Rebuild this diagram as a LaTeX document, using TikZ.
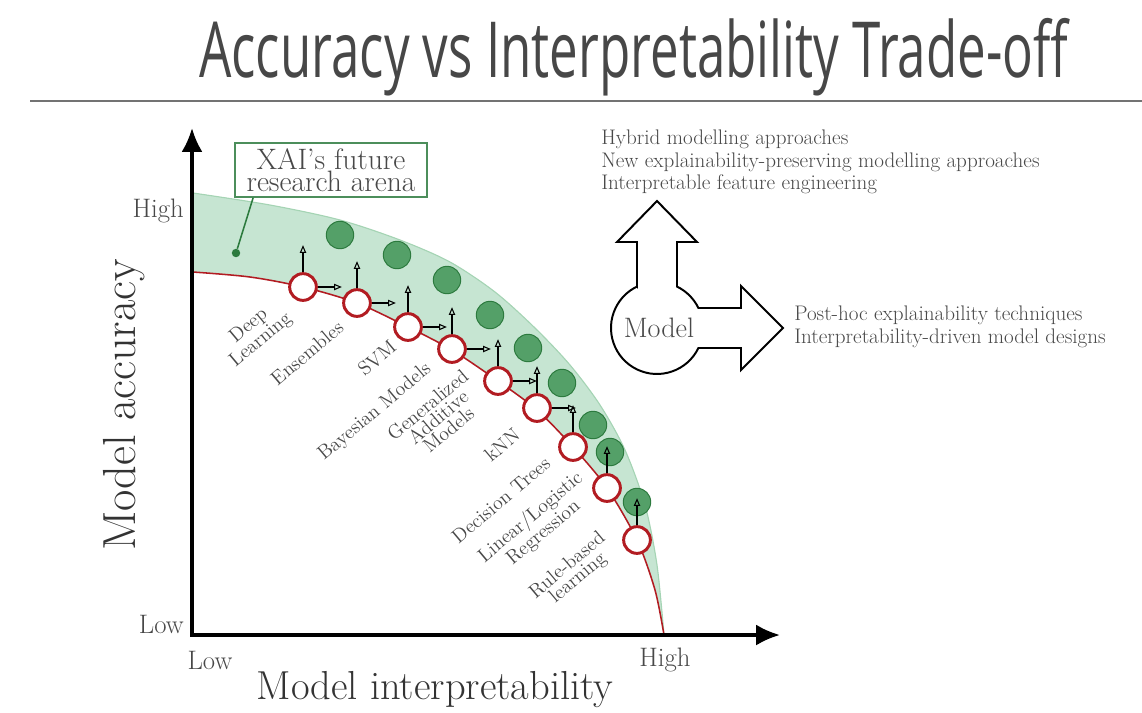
\documentclass[tikz,border=0pt]{standalone}
\usepackage{fontspec}
\newfontfamily\titlefont[FakeStretch=0.66]{Open Sans}
\usetikzlibrary{arrows.meta,positioning,calc}

\definecolor{arenafill}{RGB}{198,229,210}
\definecolor{arenaedge}{RGB}{165,212,180}
\definecolor{futfill}{RGB}{84,160,104}
\definecolor{futedge}{RGB}{44,122,62}
\definecolor{modred}{RGB}{178,28,34}
\definecolor{txtgray}{RGB}{72,72,72}

\tikzset{
  model/.style={circle, draw=modred, line width=2.1pt, fill=white, minimum size=19pt, inner sep=0pt},
  future/.style={circle, draw=futedge, fill=futfill, line width=0.7pt, minimum size=19.5pt, inner sep=0pt},
  lbl/.style={rotate=40, align=center, text=txtgray, inner sep=0pt, font=\fontsize{14}{11.5}\selectfont},
  move/.style={-{Triangle[open,length=5.5pt,width=4.5pt]}, line width=0.75pt},
  tick/.style={text=txtgray, inner sep=0pt, font=\fontsize{19}{22}\selectfont},
  axtitle/.style={text=black!80, inner sep=0pt},
  side/.style={text=txtgray, align=left, inner sep=0pt, font=\fontsize{15}{16}\selectfont},
}

\begin{document}
\begin{tikzpicture}[x=0.025cm, y=0.025cm]
  \useasboundingbox (0,0) rectangle (1142,-712);

  % title
  \node[anchor=base west, inner sep=0pt, text=black!72, font=\titlefont\fontsize{55}{60}\selectfont]
    (title) at (199,-77) {Accuracy vs Interpretability Trade-off};
  \draw[black!55, line width=1.6pt] (30,-101) -- (1142,-101);

  % research arena band
  \fill[arenafill] plot[smooth] coordinates {(193,-193) (270,-205) (340,-220) (400,-240) (450,-262)
      (495,-292) (535,-328) (570,-365) (600,-405) (625,-450) (645,-505) (657,-565) (664,-635)}
    -- plot[smooth] coordinates {(664,-635) (655,-590) (637,-540) (607,-488) (573,-447) (537,-410)
      (498,-381) (452,-350) (408,-327) (357,-303) (303,-287) (250,-277) (193,-272)} -- cycle;
  \draw[arenaedge, line width=0.8pt] plot[smooth] coordinates {(193,-193) (270,-205) (340,-220)
      (400,-240) (450,-262) (495,-292) (535,-328) (570,-365) (600,-405) (625,-450) (645,-505)
      (657,-565) (664,-635)};
  \draw[modred, line width=1.1pt] plot[smooth] coordinates {(193,-272) (250,-277) (303,-287)
      (357,-303) (408,-327) (452,-350) (498,-381) (537,-410) (573,-447) (607,-488) (637,-540)
      (655,-590) (664,-635)};

  % axes
  \coordinate (O) at (192,-635);
  \coordinate (ytop) at (192,-128);
  \coordinate (xend) at (780,-635);
  \draw[{Latex[length=17pt,width=15pt]}-{Latex[length=17pt,width=15pt]}, line width=2.4pt]
    (ytop) -- (O) -- (xend);

  \node[tick, anchor=base east] (yhi) at (184,-217) {High};
  \node[tick, anchor=base east] (ylo) at (184,-633) {Low};
  \node[tick] (xlo) at (210,-660) {Low};
  \node[tick] (xhi) at (665,-660) {High};
  \node[axtitle, rotate=90, font=\fontsize{33}{36}\selectfont] (ylab) at (124,-405) {Model accuracy};
  \node[axtitle, font=\fontsize{28.8}{32}\selectfont] (xlab) at (435,-690) {Model interpretability};

  % green points (future)
  \foreach \i/\x/\y in {1/340/235, 2/397/255, 3/447/280, 4/490/315, 5/528/348,
                        6/562/383, 7/593/425, 8/610/452, 9/637/502}
    \node[future] (f\i) at (\x,-\y) {};

  % red points (models)
  \foreach \i/\x/\y in {1/303/287, 2/357/303, 3/408/327, 4/452/349, 5/498/381,
                        6/537/408, 7/573/447, 8/607/488, 9/637/540}
    \node[model] (m\i) at (\x,-\y) {};

  \foreach \i in {1,...,9}
    \draw[move] (m\i.north) -- ++(0,27);
  \foreach \i in {1,...,6}
    \draw[move] (m\i.east) -- ++(24,0);

  % model labels
  \node[lbl] (l1) at (255,-333) {Deep\\Learning};
  \node[lbl] (l2) at (307,-353) {Ensembles};
  \node[lbl] (l3) at (377,-358) {SVM};
  \node[lbl] (l4) at (375,-412) {Bayesian Models};
  \node[lbl] (l5) at (438,-417) {Generalized\\Additive\\Models};
  \node[lbl] (l6) at (502,-445) {kNN};
  \node[lbl] (l7) at (501,-500) {Decision Trees};
  \node[lbl] (l8) at (537,-525) {Linear/Logistic\\Regression};
  \node[lbl] (l9) at (573,-572) {Rule-based\\learning};

  % callout
  \node[draw=futedge!85, line width=1.4pt, fill=white, align=center, text=txtgray,
        minimum width=137pt, minimum height=38pt, inner sep=1pt,
        font=\fontsize{21}{15.5}\selectfont] (arena) at (331,-170) {XAI's future\\research arena};
  \node[circle, fill=futedge, inner sep=0pt, minimum size=6pt] (dot) at (236,-253) {};
  \draw[futedge, line width=1.1pt] ($(arena.south west)!0.1!(arena.south east)$) -- (dot);

  % model shape with two ways out
  \draw[line width=1.4pt] (637,-286.6) -- (637,-242) -- (617,-242) -- (657,-201) -- (697,-242)
    -- (677,-242) -- (677,-286.6) arc[start angle=64.2, end angle=25.8, radius=46]
    -- (741,-308) -- (741,-286) -- (783,-328) -- (741,-370) -- (741,-348) -- (698.4,-348)
    arc[start angle=-25.8, end angle=-244.2, radius=46] -- cycle;
  \node[text=txtgray, inner sep=0pt, font=\fontsize{20}{22}\selectfont] (model) at (659,-328) {Model};

  \node[side, anchor=north west] (upway) at (601,-130)
    {Hybrid modelling approaches\\New explainability-preserving modelling approaches\\Interpretable feature engineering};
  \node[side, anchor=north west] (rightway) at (794,-306)
    {Post-hoc explainability techniques\\Interpretability-driven model designs};
\end{tikzpicture}
\end{document}
